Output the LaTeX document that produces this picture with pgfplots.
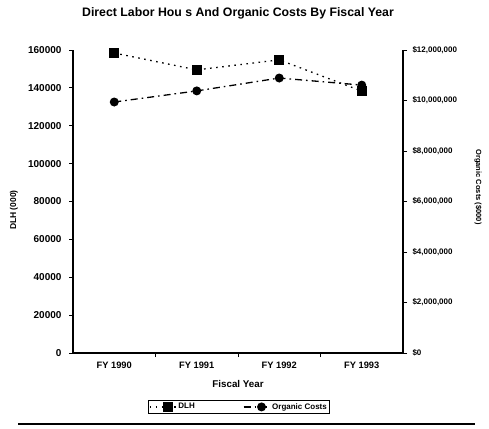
\documentclass[border=0pt]{standalone}
\usepackage{pgfplots}
\pgfplotsset{compat=1.18}
\usepackage{fontspec}
\setmainfont{Liberation Sans}

\pgfplotstableread{
idx dlh organic
0 158400 9940000
1 149500 10380000
2 154800 10890000
3 138300 10610000
}\fydata

\tikzset{
  dlhline/.style={black, line width=1.3pt, dash pattern=on 1.6pt off 4.5pt},
  orgline/.style={black, line width=1.3pt, dash pattern=on 7pt off 4pt on 1.6pt off 4pt},
}

\begin{document}
\begin{tikzpicture}
\useasboundingbox (0pt,0pt) rectangle (489pt,428pt);
\node[font=\bfseries\fontsize{12.3}{14}\selectfont] at (238pt,415pt)
  {Direct Labor Hou s And Organic Costs By Fiscal Year};

\begin{axis}[
  at={(73pt,75pt)}, anchor=south west, scale only axis,
  width=330pt, height=303pt,
  xmin=-0.5, xmax=3.5, ymin=0, ymax=160000,
  axis y line*=left, axis x line*=bottom,
  axis line style={line width=1.1pt, -},
  tick align=outside,
  tick style={black, line width=0.9pt},
  xtick={0,1,2,3},
  xticklabels={FY 1990,FY 1991,FY 1992,FY 1993},
  major x tick style={draw=none},
  minor xtick={0.5,1.5,2.5},
  minor tick length=4pt,
  major tick length=4pt,
  ytick={0,20000,...,160000},
  scaled y ticks=false,
  yticklabel style={/pgf/number format/fixed, /pgf/number format/1000 sep={},
    font=\bfseries\fontsize{10}{12}\selectfont, xshift=-4pt},
  /pgf/number format/assume math mode=true,
  xticklabel style={font=\bfseries\fontsize{9.3}{11}\selectfont, yshift=-1pt},
  xlabel={Fiscal Year},
  xlabel style={font=\bfseries\fontsize{9.8}{11}\selectfont, yshift=-5pt},
  legend style={at={(0.503,-0.178)}, anchor=center, legend columns=2,
    draw=black, line width=1pt, inner sep=0.5pt,
    font=\bfseries\fontsize{8}{9}\selectfont,
    /tikz/every even column/.append style={column sep=46pt}},
  legend image code/.code={
    \draw[#1] (0pt,0pt) -- (26pt,0pt);
    \draw[#1, solid] plot coordinates {(18pt,0pt)};
  },
  clip=false,
]
\addplot[dlhline, mark=square*, mark size=4.5pt, mark options={solid}]
  table[x=idx, y=dlh] {\fydata};
\addlegendentry{DLH}
\addlegendimage{orgline, mark=*, mark size=3.8pt, mark options={solid}}
\addlegendentry{Organic Costs}
\end{axis}

\begin{axis}[
  at={(73pt,75pt)}, anchor=south west, scale only axis,
  width=330pt, height=303pt,
  xmin=-0.5, xmax=3.5, ymin=0, ymax=12000000,
  axis y line*=right, axis x line=none,
  axis line style={line width=1.1pt, -},
  tick align=outside,
  tick style={black, line width=0.9pt},
  major tick length=4pt,
  scaled y ticks=false,
  ytick={0,2000000,4000000,6000000,8000000,10000000,12000000},
  yticklabels={{\$0},{\$2,000,000},{\$4,000,000},{\$6,000,000},{\$8,000,000},{\$10,000,000},{\$12,000,000}},
  yticklabel style={font=\bfseries\fontsize{8}{9}\selectfont, xshift=2pt},
  clip=false,
]
\addplot[orgline, mark=*, mark size=3.8pt, mark options={solid}]
  table[x=idx, y=organic] {\fydata};
\end{axis}

% axis titles
\node[rotate=90, font=\bfseries\fontsize{8.5}{10}\selectfont] at (14pt,218pt) {DLH (000)};
\node[rotate=-90, font=\bfseries\fontsize{7.5}{9}\selectfont] at (478pt,241pt) {Organic Costs (\$000)};

\draw[line width=1.8pt] (18pt,4pt) -- (475pt,4pt);
\end{tikzpicture}
\end{document}
